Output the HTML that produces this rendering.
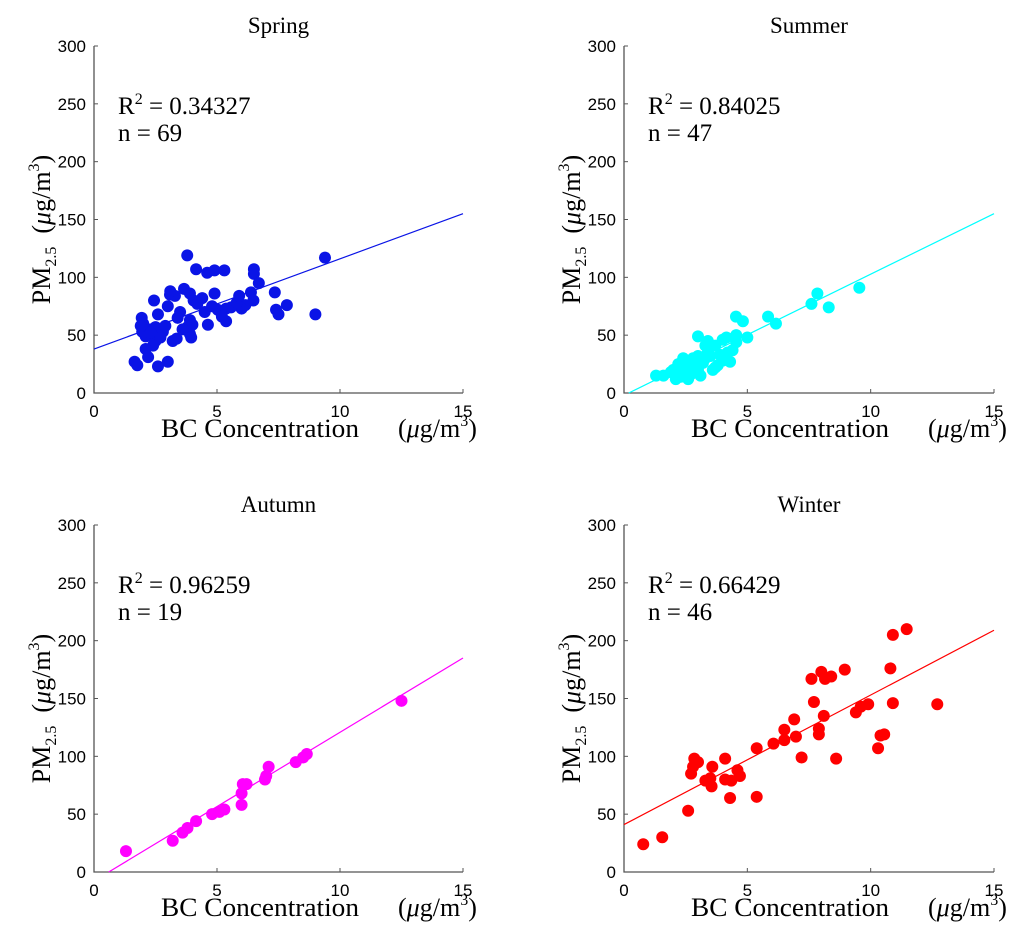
<!DOCTYPE html>
<html><head><meta charset="utf-8"><style>
html,body{margin:0;padding:0;background:#fff;}
svg{display:block;}
.tk{font-family:"Liberation Sans",sans-serif;font-size:17px;fill:#000;}
.sf{font-family:"Liberation Serif",serif;fill:#000;}
</style></head><body>
<svg id="chart" width="1024" height="943" viewBox="0 0 1024 943"></svg>
<script>
const seasons = ["Spring","Summer","Autumn","Winter"];
const colors = ["#0a14e6","#00ffff","#ff00ff","#ff0000"];
const r2Labels = ["0.34327","0.84025","0.96259","0.66429"];
const nLabels = ["69","47","19","46"];
const xTicks = [0,5,10,15];
const yTicks = [0,50,100,150,200,250,300];
const fitIntercept = [38, -2, -7.7, 41];
const fitSlope = [7.8, 10.47, 12.85, 11.2];
const springX = [3.79,9.39,4.15,4.6,4.9,5.3,6.5,6.5,3.66,4.9,3.09,3.29,2.44,3.9,4.05,4.2,6.38,7.35,6.48,6.15,6.0,7.84,7.4,7.5,9.0,3.0,2.6,1.94,5.03,5.37,5.57,5.37,4.63,3.9,4.0,3.8,1.96,2.1,2.3,2.5,2.8,3.9,3.95,3.36,3.2,2.5,2.4,2.1,2.2,1.65,1.76,2.6,3.0,2.0,2.3,3.5,4.4,5.8,6.7,3.4,2.9,4.5,5.2,3.1,2.7,1.9,4.8,5.9,3.6];
const springY = [119,117,107,104,106,106,107,103,90,86,85,84,80,86,80,77,87,87,80,76,73,76,72,68,68,75,68,65,72,73,74,62,59,63,59,57,53,49,55,57,53,51,48,47,45,45,41,38,31,27,24,23,27,60,52,70,82,78,95,65,58,70,66,88,48,58,75,84,55];
const summerX = [9.54,7.84,7.6,8.3,5.84,6.16,4.54,4.82,5.0,4.55,4.15,4.55,4.0,3.7,3.4,3.3,3.0,1.3,1.6,2.0,2.2,2.4,2.5,2.6,2.8,2.9,3.0,3.1,3.2,3.3,3.5,3.6,3.8,4.0,4.2,4.3,2.1,2.3,1.9,2.7,3.4,3.9,4.4,3.0,2.4,3.7,2.6];
const summerY = [91,86,77,74,66,60,66,62,48,50,48,44,46,41,45,41,49,15,15,20,25,18,28,22,30,24,20,15,26,30,32,20,24,28,35,27,12,14,18,16,35,33,37,32,30,22,12];
const autumnX = [1.3,3.2,3.6,3.8,4.15,4.8,5.1,5.3,6.0,6.0,6.05,6.2,6.95,7.0,7.1,8.2,8.5,8.65,12.5];
const autumnY = [18,27,34,38,44,50,52,54,58,68,76,76,80,83,91,95,99,102,148];
const winterX = [0.78,1.55,2.6,2.72,2.8,2.85,3.58,3.3,3.5,3.55,4.1,4.1,4.35,4.3,4.6,4.7,5.38,5.38,6.06,6.5,6.5,6.9,6.97,7.2,7.6,7.7,7.9,7.9,8.0,8.15,8.4,8.1,8.6,8.95,9.4,9.6,9.9,10.3,10.4,10.55,10.8,10.9,10.9,11.46,12.7,3.0];
const winterY = [24,30,53,85,91,98,91,79,81,74,98,80,79,64,88,83,107,65,111,123,114,132,117,99,167,147,124,119,173,167,169,135,98,175,138,143,145,107,118,119,176,146,205,210,145,95];
const seriesX = [springX,summerX,autumnX,winterX];
const seriesY = [springY,summerY,autumnY,winterY];

const NS="http://www.w3.org/2000/svg";
const svg=document.getElementById('chart');
function mk(tag,attrs,parent){const e=document.createElementNS(NS,tag);for(const k in attrs)e.setAttribute(k,attrs[k]);(parent||svg).appendChild(e);return e;}
const panelX=[[94,463],[624,994],[94,463],[624,994]];
const panelY=[[393,46],[393,46],[872,525],[872,525]];
const slugs=["spring","summer","autumn","winter"];
for(let p=0;p<4;p++){
  const [x0,x1]=panelX[p]; const [y0,y1]=panelY[p];
  const sx=v=>x0+(x1-x0)*v/15, sy=v=>y0+(y1-y0)*v/300;
  const g=mk('g',{});
  
  
  const ax=mk('path',{d:`M${x0} ${y1}V${y0}H${x1}`,fill:'none',stroke:'#555','stroke-width':1.3},g);
  
  
  xTicks.forEach(t=>{
    mk('line',{x1:sx(t),x2:sx(t),y1:y0,y2:y0-4,stroke:'#555'},g);
    const tx=mk('text',{x:sx(t),y:y0+24,'text-anchor':'middle',class:'tk'},g);tx.textContent=t;
    
    
  });
  yTicks.forEach(t=>{
    mk('line',{x1:x0,x2:x0+4,y1:sy(t),y2:sy(t),stroke:'#555'},g);
    const tx=mk('text',{x:x0-8,y:sy(t)+6,'text-anchor':'end',class:'tk'},g);tx.textContent=t;
    
    
  });
  let xa=0,xb=15;
  if(fitIntercept[p]<0) xa=-fitIntercept[p]/fitSlope[p];
  const ln=mk('line',{x1:sx(xa),y1:sy(fitIntercept[p]+fitSlope[p]*xa),x2:sx(xb),y2:sy(fitIntercept[p]+fitSlope[p]*xb),stroke:colors[p],'stroke-width':1.2},g);
  
  
  const X=seriesX[p],Y=seriesY[p];
  for(let i=0;i<X.length;i++){
    const c=mk('circle',{cx:sx(X[i]),cy:sy(Y[i]),r:6,fill:colors[p]},g);
    
    
  }
  const t=mk('text',{x:(x0+x1)/2,y:y1-13,'text-anchor':'middle',class:'sf','font-size':23},g);t.textContent=seasons[p];
  
  
  const r=mk('text',{x:x0+24,y:y1+68,class:'sf','font-size':25},g);
  r.innerHTML='R<tspan dy="-10" font-size="16">2</tspan><tspan dy="10"> = '+r2Labels[p]+'</tspan>';
  
  
  const n=mk('text',{x:x0+24,y:y1+95,class:'sf','font-size':25},g);n.textContent='n = '+nLabels[p];
  
  
  const xl=mk('text',{x:x0+67,y:y0+44,class:'sf','font-size':26,textLength:198,lengthAdjust:'spacingAndGlyphs'},g);
  xl.textContent='BC Concentration';
  
  
  const xu=mk('text',{x:x0+304,y:y0+44,class:'sf','font-size':26},g);
  xu.innerHTML='(<tspan font-style="italic">μ</tspan>g/m<tspan dy="-11" font-size="16">3</tspan><tspan dy="11">)</tspan>';
  
  
  const yl=mk('text',{transform:`translate(${x0-44},${(y0+y1)/2+10}) rotate(-90)`,'text-anchor':'middle',class:'sf','font-size':26},g);
  yl.innerHTML='PM<tspan dy="6" font-size="16">2.5</tspan><tspan dy="-6">&#160;&#160;(</tspan><tspan font-style="italic">μ</tspan>g/m<tspan dy="-11" font-size="16">3</tspan><tspan dy="11">)</tspan>';
  
  
}
</script>
</body></html>
